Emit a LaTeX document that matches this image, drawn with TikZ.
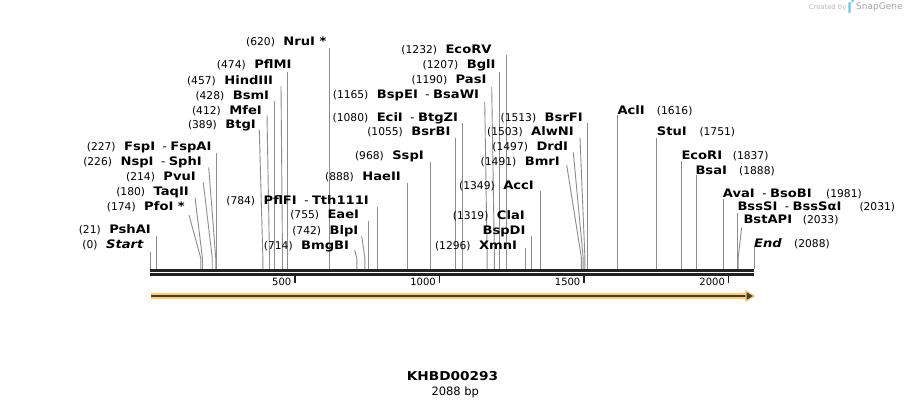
\documentclass[tikz,border=0pt]{standalone}
\usepackage{fontspec}
\setmainfont{DejaVu Sans}[BoldFeatures={FakeStretch=1.12},BoldItalicFeatures={FakeStretch=1.12}]
\definecolor{linegray}{RGB}{140,140,140}
\definecolor{bardark}{RGB}{34,34,34}
\definecolor{featorange}{RGB}{253,205,122}
\definecolor{featdark}{RGB}{72,62,48}
\definecolor{snapblue}{RGB}{120,195,235}
\definecolor{snapgray}{RGB}{165,165,165}
\newcommand\nm[1]{{\fontsize{10.7}{12}\selectfont\mdseries(#1)}}
\newcommand\dsh{\hspace{7.5pt}{\mdseries -}\hspace{3.5pt}}
\newcommand\gp{\hspace{8.5pt}}
\newcommand\cutV[3]{%
  \coordinate (#1-t) at ({150.4+0.2891*#3},#2);
  \coordinate (#1-c) at ({150.4+0.2891*#3},268.8);
  \draw[cutline] (#1-t) -- (#1-c);}
\newcommand\cutS[4]{%
  \coordinate (#1-t) at (#2,#3);
  \coordinate (#1-k) at ({150.4+0.2891*#4},258);
  \coordinate (#1-c) at ({150.4+0.2891*#4},268.8);
  \draw[cutline] (#1-t) -- (#1-k) -- (#1-c);}
\tikzset{
  lbl/.style={inner sep=0pt, text height=8.4pt, text depth=0pt, font=\fontsize{11.7}{13}\selectfont\bfseries},
  lft/.style={lbl, anchor=east},
  rgt/.style={lbl, anchor=west},
  rnum/.style={inner sep=0pt, text height=8.4pt, text depth=0pt, anchor=west, font=\fontsize{10.7}{12}\selectfont},
  cutline/.style={draw=linegray, line width=0.9pt},
  barline/.style={draw=bardark},
  ticklbl/.style={inner sep=0pt, anchor=east, font=\fontsize{10}{12}\selectfont},
}
\begin{document}
\begin{tikzpicture}[x=1pt,y=-1pt]
\fill[white] (0,0) rectangle (906,408);
\useasboundingbox (0,0) rectangle (906,408);

% ---- cut lines ----
\cutV{Start}{251.7}{1.5}
\cutV{PshAI}{236}{21}
\cutS{PfoI}{189}{215}{174}
\cutS{TaqII}{195}{197.7}{180}
\cutS{PvuI}{203.3}{182.7}{214}
\cutS{NspI}{208.7}{167.3}{226}
\cutV{FspI}{153.3}{227}
\cutS{BtgI}{259.3}{130}{389}
\cutS{MfeI}{267}{115}{412}
\cutV{BsmI}{100.7}{428}
\cutS{HindIII}{281}{86}{457}
\cutV{PflMI}{71.7}{474}
\cutV{NruI}{48.3}{620}
\cutS{BmgBI}{354.7}{250}{714}
\cutS{BlpI}{361.7}{236}{742}
\cutV{EaeI}{220.7}{755}
\cutV{PflFI}{206.7}{784}
\cutV{HaeII}{183.3}{888}
\cutV{SspI}{161.7}{968}
\cutV{BsrBI}{138.3}{1055}
\cutV{EciI}{123.3}{1080}
\cutS{BspEI}{484.7}{101.7}{1165}
\cutS{PasI}{491.7}{86.7}{1190}
\cutV{BglI}{71.7}{1207}
\cutV{EcoRV}{55}{1232}
\cutV{XmnI}{248.3}{1296}
\cutV{BspDI}{236}{1319}
\cutV{AccI}{191}{1349}
\cutS{BmrI}{566.7}{165}{1491}
\cutS{DrdI}{573.3}{152.3}{1497}
\cutS{AlwNI}{580}{137.7}{1503}
\cutV{BsrFI}{123.3}{1513}
\cutV{AclI}{115}{1616}
\cutV{StuI}{137.7}{1751}
\cutV{EcoRI}{161}{1837}
\cutV{BsaI}{175}{1888}
\cutV{AvaI}{199.3}{1981}
\cutV{BssSI}{213.3}{2031}
\cutS{BstAPI}{741.7}{227.3}{2033}
\cutV{End}{247}{2088}

% ---- left-side labels ----
\node[lft] (Start) at (144,244.3) {\nm{0}\gp\textit{Start}};
\node[lft] (PshAI) at (151,229.3) {\nm{21}\gp PshAI};
\node[lft] (PfoI) at (185,206.7) {\nm{174}\gp PfoI *};
\node[lft] (TaqII) at (189,191.7) {\nm{180}\gp TaqII};
\node[lft] (PvuI) at (196,176.7) {\nm{214}\gp PvuI};
\node[lft] (NspI) at (202,161.7) {\nm{226}\gp NspI\dsh SphI};
\node[lft] (FspI) at (211.7,146.7) {\nm{227}\gp FspI\dsh FspAI};
\node[lft] (BtgI) at (256,124.3) {\nm{389}\gp BtgI};
\node[lft] (MfeI) at (262,110) {\nm{412}\gp MfeI};
\node[lft] (BsmI) at (269.3,95) {\nm{428}\gp BsmI};
\node[lft] (HindIII) at (273.3,80) {\nm{457}\gp HindIII};
\node[lft] (PflMI) at (291.7,64.3) {\nm{474}\gp PflMI};
\node[lft] (NruI) at (326.7,41.7) {\nm{620}\gp NruI *};
\node[lft] (PflFI) at (369,200) {\nm{784}\gp PflFI\dsh Tth111I};
\node[lft] (EaeI) at (359.3,214.3) {\nm{755}\gp EaeI};
\node[lft] (BlpI) at (358.5,230) {\nm{742}\gp BlpI};
\node[lft] (BmgBI) at (349.3,245) {\nm{714}\gp BmgBI};
\node[lft] (HaeII) at (401,176) {\nm{888}\gp HaeII};
\node[lft] (SspI) at (424,155) {\nm{968}\gp SspI};
\node[lft] (BsrBI) at (450.7,131) {\nm{1055}\gp BsrBI};
\node[lft] (EciI) at (458.3,117.7) {\nm{1080}\gp EciI\dsh BtgZI};
\node[lft] (BspEI) at (479.3,94) {\nm{1165}\gp BspEI\dsh BsaWI};
\node[lft] (PasI) at (486.7,79.3) {\nm{1190}\gp PasI};
\node[lft] (BglI) at (495.7,64.3) {\nm{1207}\gp BglI};
\node[lft] (EcoRV) at (491.7,49.3) {\nm{1232}\gp EcoRV};
\node[lft] (BsrFI) at (583,117.7) {\nm{1513}\gp BsrFI};
\node[lft] (AlwNI) at (574,131.7) {\nm{1503}\gp AlwNI};
\node[lft] (DrdI) at (568.3,146.7) {\nm{1497}\gp DrdI};
\node[lft] (BmrI) at (560,161.7) {\nm{1491}\gp BmrI};
\node[lft] (AccI) at (534,185) {\nm{1349}\gp AccI};
\node[lft] (ClaI) at (525,215) {\nm{1319}\gp ClaI};
\node[lft] (BspDI) at (525.7,230) {BspDI};
\node[lft] (XmnI) at (517.3,245) {\nm{1296}\gp XmnI};

% ---- right-side labels ----
\node[rgt] (AclI) at (617.3,110) {AclI};
\node[rnum] (AclIn) at (656.7,110) {(1616)};
\node[rgt] (StuI) at (656.7,131.7) {StuI};
\node[rnum] (StuIn) at (699.3,131.7) {(1751)};
\node[rgt] (EcoRI) at (681.3,155) {EcoRI};
\node[rnum] (EcoRIn) at (732.7,155) {(1837)};
\node[rgt] (BsaI) at (695.3,170) {BsaI};
\node[rnum] (BsaIn) at (739,170) {(1888)};
\node[rgt] (AvaI) at (722.7,193.3) {AvaI\dsh BsoBI};
\node[rnum] (AvaIn) at (826,193.3) {(1981)};
\node[rgt] (BssSI) at (737.3,206.7) {BssSI\dsh BssSαI};
\node[rnum] (BssSIn) at (859.3,206.7) {(2031)};
\node[rgt] (BstAPI) at (743.3,219.3) {BstAPI};
\node[rnum] (BstAPIn) at (802.7,219.3) {(2033)};
\node[rgt] (End) at (754,243.3) {\textit{End}};
\node[rnum] (Endn) at (794,243.3) {(2088)};

% ---- sequence bar ----
\draw[barline, line width=2.7pt] (150.4,270.3) -- (754.3,270.3);
\draw[barline, line width=3pt] (150.4,274.2) -- (754.3,274.2);
\foreach \v in {500,1000,1500,2000}{
  \draw[bardark, line width=1.8pt] ({150.4+0.2891*\v},275.5) -- ({150.4+0.2891*\v},282.7);
  \node[ticklbl] (tick\v) at ({150.4+0.2891*\v-3.5},282.3) {\v};
}

% ---- feature arrow ----
\draw[featorange, line width=6pt] (151,296) -- (748,296);
\draw[featdark, line width=2.2pt] (151,296) -- (747,296);
\filldraw[fill=featdark, draw=featorange, line width=1.2pt, line join=miter] (746,290.9) -- (754.3,296) -- (746,301.1) -- cycle;

% ---- title ----
\node[font=\fontsize{12.2}{14}\selectfont\bfseries] (title) at (452.5,376) {KHBD00293};
\node[font=\fontsize{11.5}{13}\selectfont] (len) at (455.3,392.7) {2088 bp};

% ---- credit ----
\node[anchor=east, inner sep=0pt, text=snapgray!80, font=\fontsize{6.8}{8}\selectfont] (cred) at (846.5,7.3) {Created by};
\fill[snapblue, rounded corners=0.8pt] (848.3,13) rectangle (850.6,2.2);
\fill[snapblue] (850.6,2.2) -- (852,2.2) arc (90:-90:2.6 and 2.9) -- (850.6,8) -- cycle;
\node[anchor=west, inner sep=0pt, text=snapgray, font=\fontsize{9}{10}\selectfont] (snap) at (856,7.3) {SnapGene};
\end{tikzpicture}
\end{document}
